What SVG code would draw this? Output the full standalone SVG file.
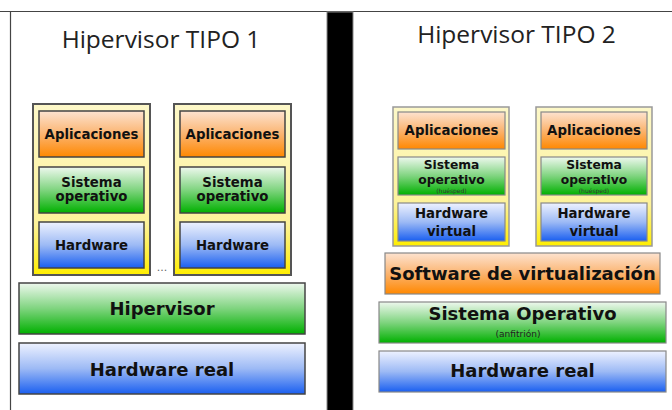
<svg xmlns="http://www.w3.org/2000/svg" width="672" height="410" viewBox="0 0 672 410">
<defs>
<linearGradient id="gOr" x1="0" y1="0" x2="0" y2="1"><stop offset="0" stop-color="#fde3d0"/><stop offset="0.5" stop-color="#fbb470"/><stop offset="1" stop-color="#ff8800"/></linearGradient>
<linearGradient id="gGr" x1="0" y1="0" x2="0" y2="1"><stop offset="0" stop-color="#eef8ee"/><stop offset="0.5" stop-color="#7fd47f"/><stop offset="1" stop-color="#00b000"/></linearGradient>
<linearGradient id="gBl" x1="0" y1="0" x2="0" y2="1"><stop offset="0" stop-color="#eef2ff"/><stop offset="0.5" stop-color="#9dbaf5"/><stop offset="1" stop-color="#1a5ff0"/></linearGradient>
<linearGradient id="gYe" x1="0" y1="0" x2="0" y2="1"><stop offset="0" stop-color="#fdf8c8"/><stop offset="0.7" stop-color="#fdf29a"/><stop offset="1" stop-color="#ffee00"/></linearGradient>
</defs>
<style>
.title{font-family:"Open Sans","Liberation Sans",sans-serif;font-size:24.5px;fill:#222;text-anchor:middle}
.lbl{font-family:"DejaVu Sans",sans-serif;font-weight:bold;font-size:13.3px;fill:#111;text-anchor:middle}
.lbs{font-family:"DejaVu Sans",sans-serif;font-weight:bold;font-size:12.3px;fill:#111;text-anchor:middle}
.big{font-family:"DejaVu Sans",sans-serif;font-weight:bold;font-size:18px;fill:#111;text-anchor:middle}
.tiny{font-family:"DejaVu Sans",sans-serif;font-weight:normal;font-size:6px;fill:#333;text-anchor:middle}
.small{font-family:"DejaVu Sans",sans-serif;font-weight:normal;font-size:9px;fill:#222;text-anchor:middle}
.cont{fill:url(#gYe);stroke:#555;stroke-width:2}
.cont2{fill:url(#gYe);stroke:#999;stroke-width:1.5}
.or{fill:url(#gOr);stroke:#444;stroke-width:1.5}
.gr{fill:url(#gGr);stroke:#444;stroke-width:1.5}
.bl{fill:url(#gBl);stroke:#444;stroke-width:1.5}
.or2{fill:url(#gOr);stroke:#888;stroke-width:1.2}
.gr2{fill:url(#gGr);stroke:#888;stroke-width:1.2}
.bl2{fill:url(#gBl);stroke:#888;stroke-width:1.2}
</style>
<rect x="0" y="0" width="672" height="410" fill="#fff"/>
<g id="frame">
<line x1="0" y1="11.5" x2="672" y2="11.5" stroke="#444" stroke-width="1.2"/>
<line x1="10.5" y1="11.5" x2="10.5" y2="410" stroke="#444" stroke-width="1.2"/>
<rect x="327" y="12" width="26" height="400" fill="#000" stroke="#888" stroke-width="1"/>
</g>
<g id="title1"><text class="title" x="161" y="48">Hipervisor TIPO 1</text></g>
<g id="title2"><text class="title" x="516.5" y="43">Hipervisor TIPO 2</text></g>

<g id="vm1-t1">
<rect class="cont" x="33" y="104" width="117" height="171"/>
<rect class="or" x="39" y="111" width="105" height="46"/>
<text class="lbl" x="91.5" y="139">Aplicaciones</text>
<rect class="gr" x="39" y="167" width="105" height="46"/>
<text class="lbl" x="91.5" y="187">Sistema<tspan x="91.5" y="201">operativo</tspan></text>
<rect class="bl" x="39" y="222" width="105" height="46"/>
<text class="lbl" x="91.5" y="250">Hardware</text>
</g>
<g id="vm2-t1">
<rect class="cont" x="174" y="104" width="117" height="171"/>
<rect class="or" x="180" y="111" width="105" height="46"/>
<text class="lbl" x="232.5" y="139">Aplicaciones</text>
<rect class="gr" x="180" y="167" width="105" height="46"/>
<text class="lbl" x="232.5" y="187">Sistema<tspan x="232.5" y="201">operativo</tspan></text>
<rect class="bl" x="180" y="222" width="105" height="46"/>
<text class="lbl" x="232.5" y="250">Hardware</text>
</g>
<g id="dots"><text x="162" y="271" font-family="DejaVu Sans, sans-serif" font-size="11" fill="#666" text-anchor="middle">...</text></g>
<g id="hipervisor">
<rect class="gr" x="19" y="283" width="286" height="51"/>
<text class="big" x="162" y="315">Hipervisor</text>
</g>
<g id="hw-real-1">
<rect class="bl" x="19" y="343" width="286" height="51"/>
<text class="big" x="162" y="376">Hardware real</text>
</g>

<g id="vm1-t2">
<rect class="cont2" x="393" y="107" width="116" height="139"/>
<rect class="or2" x="398" y="112" width="107" height="37"/>
<text class="lbl" x="451.5" y="135">Aplicaciones</text>
<rect class="gr2" x="398" y="157" width="107" height="38"/>
<text class="lbs" x="451.5" y="169.3">Sistema<tspan x="451.5" y="183.8">operativo</tspan><tspan class="tiny" x="451.5" y="192.8">(huésped)</tspan></text>
<rect class="bl2" x="398" y="203" width="107" height="38"/>
<text class="lbl" x="451.5" y="218">Hardware<tspan x="451.5" y="235.5">virtual</tspan></text>
</g>
<g id="vm2-t2">
<rect class="cont2" x="536" y="107" width="116" height="139"/>
<rect class="or2" x="541" y="112" width="106" height="37"/>
<text class="lbl" x="594" y="135">Aplicaciones</text>
<rect class="gr2" x="541" y="157" width="106" height="38"/>
<text class="lbs" x="594" y="169.3">Sistema<tspan x="594" y="183.8">operativo</tspan><tspan class="tiny" x="594" y="192.8">(huésped)</tspan></text>
<rect class="bl2" x="541" y="203" width="106" height="38"/>
<text class="lbl" x="594" y="218">Hardware<tspan x="594" y="235.5">virtual</tspan></text>
</g>
<g id="software-virt">
<rect class="or2" x="385" y="253" width="275" height="41"/>
<text class="big" x="522.5" y="280">Software de virtualización</text>
</g>
<g id="so-anfitrion">
<rect class="gr2" x="379" y="302" width="287" height="41"/>
<text class="big" x="522.5" y="320">Sistema Operativo<tspan class="small" x="518" y="337">(anfitrión)</tspan></text>
</g>
<g id="hw-real-2">
<rect class="bl2" x="379" y="351" width="287" height="41"/>
<text class="big" x="522.5" y="377">Hardware real</text>
</g>
<g id="connectors"/>
</svg>
